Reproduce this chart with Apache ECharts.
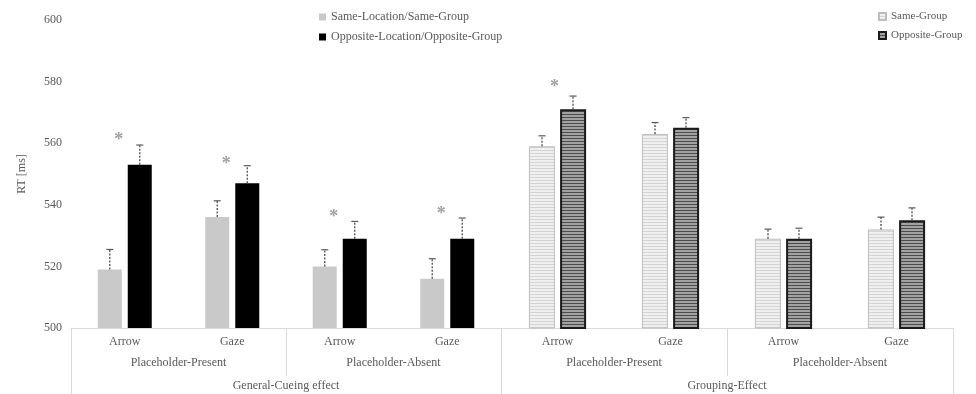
<!DOCTYPE html>
<html><head><meta charset="utf-8">
<script src="https://cdn.jsdelivr.net/npm/echarts@6/dist/echarts.min.js"></script>
<style>html,body{margin:0;padding:0;background:#fff}#c{width:976px;height:394px}</style>
</head><body><div id="c"></div><script>
// ---- data ----
const conditions = ['Arrow', 'Gaze', 'Arrow', 'Gaze'];
const placeholderLabels = ['Placeholder-Present', 'Placeholder-Absent'];
const cueingLabel = ['General-Cueing effect'];
const groupingLabel = ['Grouping-Effect'];
const yTicks = [500, 520, 540, 560, 580, 600];

const cueSame = [519, 536, 520, 516];
const cueSameErr = [6.5, 5.3, 5.4, 6.5];
const cueOpp = [553, 547, 529, 529];
const cueOppErr = [6.4, 5.7, 5.6, 6.7];
const groupSame = [559, 563, 529, 532];
const groupSameErr = [3.4, 3.7, 3.1, 4.0];
const groupOpp = [571, 565, 529, 535];
const groupOppErr = [4.3, 3.3, 3.4, 4.0];
const cueStars = [[0, 562], [1, 554], [2, 537], [3, 538]];
const groupStars = [[0, 579]];

// ---- styles ----
const FONT = 'Liberation Serif';
const TXT = '#595959';
const AX = '#d9d9d9';

function stripes(bg, line, period, lineH) {
  const c = document.createElement('canvas');
  c.width = 8; c.height = period;
  const g = c.getContext('2d');
  g.fillStyle = bg; g.fillRect(0, 0, 8, period);
  g.fillStyle = line; g.fillRect(0, 0, 8, lineH);
  return c;
}
const patSame = { image: stripes('#f0f0f0', '#d4d4d4', 3, 1), repeat: 'repeat' };
const patOpp = { image: stripes('#a2a2a2', '#4c4c4c', 3, 1), repeat: 'repeat' };

function withErr(vals, errs) { return vals.map((v, i) => [i, v, errs[i]]); }

function errRender(offset) {
  return function (params, api) {
    const i = api.value(0), v = api.value(1), e = api.value(2);
    const p0 = api.coord([i, v]);
    const p1 = api.coord([i, v + e]);
    const x = p0[0] + offset;
    return {
      type: 'group',
      children: [
        { type: 'line', shape: { x1: x, y1: p0[1], x2: x, y2: p1[1] },
          style: { stroke: '#595959', lineWidth: 1.4, lineDash: [2, 1.5] } },
        { type: 'line', shape: { x1: x - 3.5, y1: p1[1], x2: x + 3.5, y2: p1[1] },
          style: { stroke: '#595959', lineWidth: 1.2 } }
      ]
    };
  };
}
function starRender(offset) {
  return function (params, api) {
    const p = api.coord([api.value(0), api.value(1)]);
    return {
      type: 'text', x: p[0] + offset, y: p[1] + 3,
      style: { text: '*', fill: '#a0a0a0', font: 'bold 18px ' + FONT, align: 'center', verticalAlign: 'middle' }
    };
  };
}

const txt = { color: TXT, fontFamily: FONT, fontSize: 12 };

function xAxes(grid, groupLabel) {
  return [
    { gridIndex: grid, type: 'category', data: conditions, position: 'bottom',
      axisLine: { show: true, lineStyle: { color: AX, width: 1 } },
      axisTick: { show: false }, splitLine: { show: false },
      axisLabel: Object.assign({ margin: 8, interval: 0 }, txt) },
    { gridIndex: grid, type: 'category', data: placeholderLabels, position: 'bottom', offset: 0,
      axisLine: { show: false },
      axisTick: { show: true, length: 48, interval: 0, lineStyle: { color: AX } },
      splitLine: { show: false },
      axisLabel: Object.assign({ margin: 29, interval: 0 }, txt) },
    { gridIndex: grid, type: 'category', data: groupLabel, position: 'bottom', offset: 0,
      axisLine: { show: false },
      axisTick: { show: true, length: 66, interval: 0, lineStyle: { color: AX } },
      splitLine: { show: false },
      axisLabel: Object.assign({ margin: 52, interval: 0 }, txt) }
  ];
}

const yBase = {
  type: 'value', min: yTicks[0], max: yTicks[yTicks.length - 1], interval: yTicks[1] - yTicks[0],
  axisLine: { show: false }, axisTick: { show: false }, splitLine: { show: false }
};

const chart = echarts.init(document.getElementById('c'), null, { renderer: 'canvas' });
chart.setOption({
  animation: false,
  backgroundColor: '#fff',
  grid: [
    { left: 71, top: 20, width: 430, height: 308 },
    { left: 501, top: 20, width: 452, height: 308 }
  ],
  legend: [
    { orient: 'vertical', left: 314, top: 6, itemWidth: 7, itemHeight: 7, itemGap: 8,
      icon: 'rect', textStyle: txt,
      data: ['Same-Location/Same-Group', 'Opposite-Location/Opposite-Group'] },
    { orient: 'vertical', left: 873, top: 6, itemWidth: 7, itemHeight: 7, itemGap: 8,
      icon: 'rect', textStyle: Object.assign({}, txt, { fontSize: 11 }),
      data: ['Same-Group', 'Opposite-Group'] }
  ],
  xAxis: xAxes(0, cueingLabel).concat(xAxes(1, groupingLabel)),
  yAxis: [
    Object.assign({}, yBase, { gridIndex: 0,
      axisLabel: Object.assign({ margin: 9 }, txt),
      name: 'RT [ms]', nameLocation: 'middle', nameGap: 43, nameRotate: 90,
      nameTextStyle: txt }),
    Object.assign({}, yBase, { gridIndex: 1, show: false })
  ],
  series: [
    { name: 'Same-Location/Same-Group', type: 'bar', xAxisIndex: 0, yAxisIndex: 0,
      data: cueSame, barWidth: 24, barGap: '25%', itemStyle: { color: '#c9c9c9' } },
    { name: 'Opposite-Location/Opposite-Group', type: 'bar', xAxisIndex: 0, yAxisIndex: 0,
      data: cueOpp, barWidth: 24, barGap: '25%', itemStyle: { color: '#000000' } },
    { name: 'Same-Group', type: 'bar', xAxisIndex: 3, yAxisIndex: 1,
      data: groupSame, barWidth: 26, barGap: '20%',
      itemStyle: { color: patSame, borderColor: '#bdbdbd', borderWidth: 1 } },
    { name: 'Opposite-Group', type: 'bar', xAxisIndex: 3, yAxisIndex: 1,
      data: groupOpp, barWidth: 26, barGap: '20%',
      itemStyle: { color: patOpp, borderColor: '#1a1a1a', borderWidth: 2 } },
    { type: 'custom', xAxisIndex: 0, yAxisIndex: 0, data: withErr(cueSame, cueSameErr),
      renderItem: errRender(-15), z: 5, silent: true },
    { type: 'custom', xAxisIndex: 0, yAxisIndex: 0, data: withErr(cueOpp, cueOppErr),
      renderItem: errRender(15), z: 5, silent: true },
    { type: 'custom', xAxisIndex: 3, yAxisIndex: 1, data: withErr(groupSame, groupSameErr),
      renderItem: errRender(-15.5), z: 5, silent: true },
    { type: 'custom', xAxisIndex: 3, yAxisIndex: 1, data: withErr(groupOpp, groupOppErr),
      renderItem: errRender(15.5), z: 5, silent: true },
    { type: 'custom', xAxisIndex: 0, yAxisIndex: 0, data: cueStars,
      renderItem: starRender(-6), z: 5, silent: true },
    { type: 'custom', xAxisIndex: 3, yAxisIndex: 1, data: groupStars,
      renderItem: starRender(-3), z: 5, silent: true }
  ]
});
</script></body></html>
